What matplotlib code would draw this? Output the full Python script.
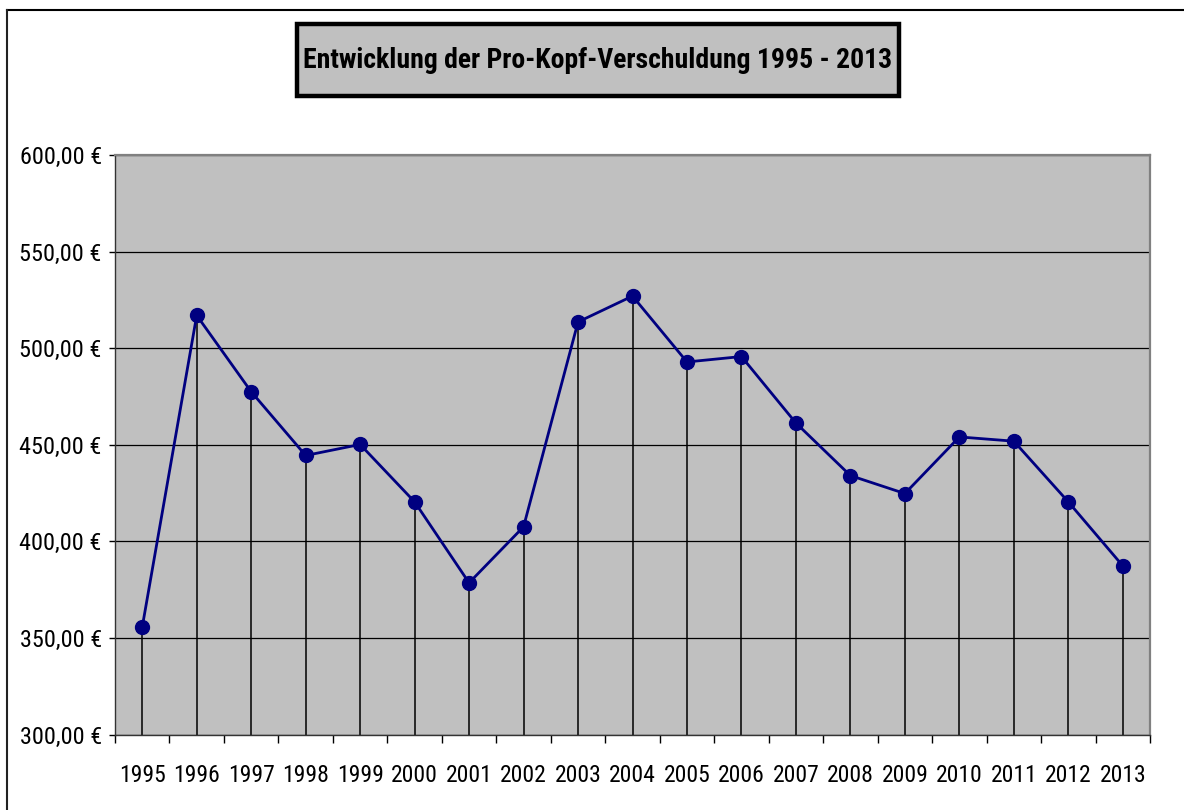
import numpy as np
import matplotlib
matplotlib.use("Agg")
import matplotlib.pyplot as plt
from matplotlib.lines import Line2D
from matplotlib.patches import Rectangle
from matplotlib.ticker import FuncFormatter, MultipleLocator

years = [str(y) for y in range(1995, 2014)]
debt_per_capita = [355.7, 517.0, 477.5, 444.5, 450.2, 420.5, 378.6, 407.6, 513.6, 527.0,
                   492.9, 495.7, 461.3, 434.1, 424.8, 454.1, 451.9, 420.5, 387.4]

title = "Entwicklung der Pro-Kopf-Verschuldung 1995 - 2013"

# narrow Arial-like look
plt.rcParams['font.family'] = ['Roboto Condensed', 'Liberation Sans', 'DejaVu Sans']

W, H = 1184, 810
fig = plt.figure(figsize=(W / 100, H / 100), dpi=100)
fig.patch.set_facecolor('white')

# outer chart frame (runs off the right and bottom edge)
fig.add_artist(Line2D([7 / W, 1.0], [1 - 10 / H, 1 - 10 / H], color='black', lw=1.5))
fig.add_artist(Line2D([7 / W, 7 / W], [1 - 10 / H, 0.0], color='#222222', lw=1.5))

# title box
box = Rectangle((297 / W, 1 - 96 / H), (899 - 297) / W, (96 - 24) / H,
                transform=fig.transFigure, facecolor='#C0C0C0',
                edgecolor='black', lw=3.2, zorder=0)
fig.add_artist(box)
fig.text(598 / W, 1 - 60 / H, title, ha='center', va='center',
         fontsize=20, fontweight='bold', color='black', zorder=5)

ax = fig.add_axes([115 / W, 1 - 734.7 / H, (1150 - 115) / W, (734.7 - 155) / H])
ax.set_facecolor('#C0C0C0')

x = np.arange(len(years))
ax.vlines(x, 300, debt_per_capita, color='black', lw=1.1, zorder=2)
ax.plot(x, debt_per_capita, color='#000080', lw=2, marker='o', markersize=10,
        markerfacecolor='#000080', markeredgecolor='#000080', zorder=3)

ax.set_xlim(-0.5, len(years) - 0.5)
ax.set_ylim(300, 600)
ax.yaxis.set_major_locator(MultipleLocator(50))
ax.yaxis.set_major_formatter(FuncFormatter(lambda v, p: f"{v:.2f}".replace('.', ',') + " €"))
ax.grid(True, axis='y', color='black', lw=0.9, zorder=1)
ax.set_axisbelow(True)

ax.set_xticks(x, labels=years)
ax.set_xticks(np.arange(-0.5, len(years)), minor=True)
ax.tick_params(axis='x', which='major', length=0, pad=21, labelsize=17)
ax.tick_params(axis='x', which='minor', length=6, width=1, color='black')
ax.tick_params(axis='y', length=4.5, width=1, pad=5, labelsize=17.5, color='black')

for side in ['top', 'right']:
    ax.spines[side].set_color('#808080')
    ax.spines[side].set_linewidth(1.6)
for side in ['left', 'bottom']:
    ax.spines[side].set_color('#333333')
    ax.spines[side].set_linewidth(1.0)

fig.savefig("out.png", dpi=100)
